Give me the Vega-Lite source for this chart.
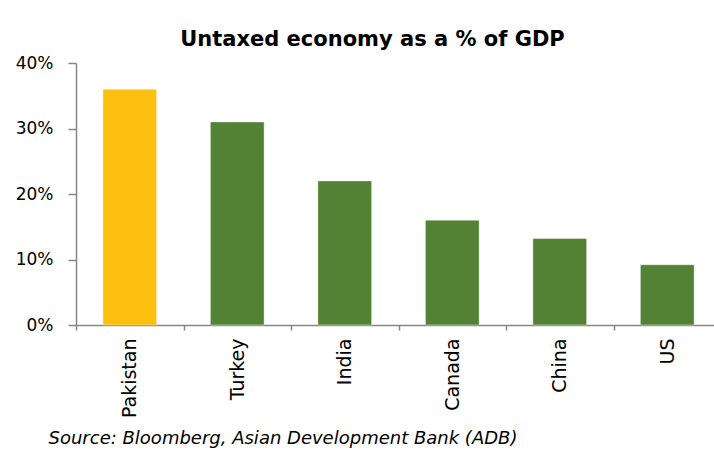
{
  "$schema": "https://vega.github.io/schema/vega-lite/v6.json",
  "width": 645,
  "height": 262,
  "autosize": "none",
  "padding": {"left": 76, "top": 63, "right": 0, "bottom": 127},
  "background": "white",
  "title": {
    "text": "Untaxed economy as a % of GDP",
    "font": "DejaVu Sans",
    "fontSize": 21,
    "fontWeight": "bold",
    "color": "#000000",
    "anchor": "middle",
    "frame": "group",
    "dx": -26,
    "baseline": "alphabetic",
    "offset": -13
  },
  "data": {
    "values": [
      {"country": "Pakistan", "share": 0.36, "highlight": "yes"},
      {"country": "Turkey", "share": 0.31, "highlight": "no"},
      {"country": "India", "share": 0.22, "highlight": "no"},
      {"country": "Canada", "share": 0.16, "highlight": "no"},
      {"country": "China", "share": 0.132, "highlight": "no"},
      {"country": "US", "share": 0.092, "highlight": "no"}
    ]
  },
  "mark": {"type": "bar", "width": {"band": 0.5}, "stroke": "#ffffff", "strokeOpacity": 0.4, "strokeWidth": 1},
  "encoding": {
    "x": {
      "field": "country",
      "type": "nominal",
      "sort": null,
      "scale": {"paddingInner": 0, "paddingOuter": 0},
      "axis": {
        "title": "Source: Bloomberg, Asian Development Bank (ADB)",
        "titleFont": "DejaVu Sans",
        "titleFontSize": 18,
        "titleFontStyle": "italic",
        "titleFontWeight": "normal",
        "titleColor": "#000000",
        "titleAnchor": "start",
        "titleAlign": "left",
        "titleBaseline": "alphabetic",
        "titleX": -28,
        "titleY": 118,
        "labelAngle": -90,
        "labelAlign": "right",
        "labelBaseline": "middle",
        "labelFont": "DejaVu Sans",
        "labelFontSize": 19,
        "labelColor": "#000000",
        "labelPadding": 8,
        "domainColor": "#868686",
        "domainWidth": 1.5,
        "tickColor": "#868686",
        "tickWidth": 1.5,
        "tickSize": 5,
        "tickBand": "extent",
        "grid": false
      }
    },
    "y": {
      "field": "share",
      "type": "quantitative",
      "scale": {"domain": [0, 0.4], "nice": false},
      "axis": {
        "title": null,
        "format": ".0%",
        "values": [0, 0.1, 0.2, 0.3, 0.4],
        "labelFont": "DejaVu Sans",
        "labelFontSize": 17,
        "labelColor": "#000000",
        "labelPadding": 15,
        "domainColor": "#868686",
        "domainWidth": 1.5,
        "tickColor": "#868686",
        "tickWidth": 1.5,
        "tickSize": 8,
        "grid": false
      }
    },
    "color": {
      "field": "highlight",
      "type": "nominal",
      "scale": {"domain": ["yes", "no"], "range": ["#FDC010", "#548235"]},
      "legend": null
    }
  },
  "config": {"view": {"stroke": null}}
}
